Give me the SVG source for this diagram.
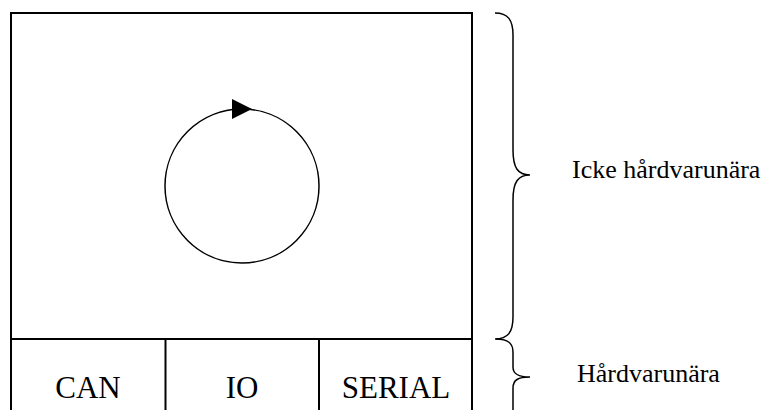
<svg xmlns="http://www.w3.org/2000/svg" width="767" height="410" viewBox="0 0 767 410">
  <style>
    .frame { fill: none; stroke: #000; stroke-width: 2; }
    .thin { fill: none; stroke: #000; stroke-width: 1.5; }
    text { font-family: 'Liberation Serif', 'Times New Roman', serif; fill: #000; }
    .cell { font-size: 31px; text-anchor: middle; }
    .note { font-size: 26px; }
  </style>
  <rect width="767" height="410" fill="#fff"/>

  <!-- application layer: upper area with the main loop -->
  <g id="app-layer">
    <path class="frame" d="M11,430 V13 H472 V430"/>
    <line class="frame" x1="11" y1="339" x2="472" y2="339"/>
  </g>

  <!-- hardware drivers -->
  <g id="can">
    <text class="cell" x="88" y="398">CAN</text>
  </g>
  <g id="io">
    <line class="frame" x1="165.5" y1="339" x2="165.5" y2="430"/>
    <text class="cell" x="242" y="398">IO</text>
  </g>
  <g id="serial">
    <line class="frame" x1="319" y1="339" x2="319" y2="430"/>
    <text class="cell" x="396" y="398">SERIAL</text>
  </g>

  <!-- braces and their labels -->
  <g id="non-hw-label">
    <path class="thin" d="M495,13 C508,13 513,20 513,35 V150 C513,168 518,175 530,175 C518,175 513,182 513,200 V317 C513,332 508,339 495,339"/>
    <text class="note" x="572" y="178">Icke hårdvarunära</text>
  </g>
  <g id="hw-label">
    <path class="thin" d="M496,339 C508,339 513,343 513,352 V367 C513,374 518,377 530,377 C518,377 513,380 513,388 V412"/>
    <text class="note" x="577" y="382">Hårdvarunära</text>
  </g>

  <!-- loop connector -->
  <g id="connectors">
    <circle class="thin" cx="242" cy="186" r="77"/>
    <polygon points="232,99 252,109 232,119" fill="#000"/>
  </g>
</svg>
